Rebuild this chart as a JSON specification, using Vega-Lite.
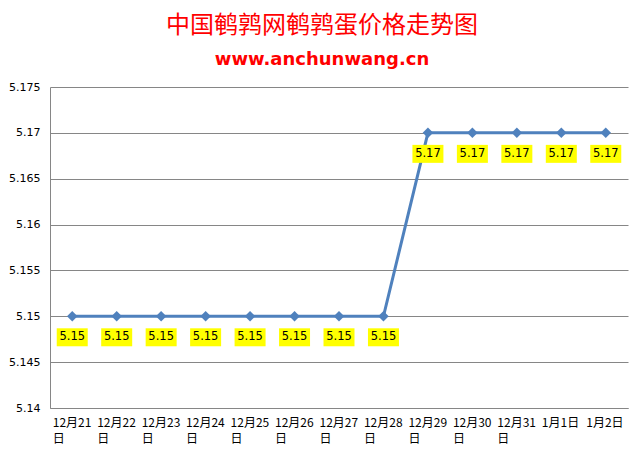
{
  "$schema": "https://vega.github.io/schema/vega-lite/v6.json",
  "width": 578,
  "height": 321,
  "autosize": {"type": "none"},
  "padding": {"left": 50, "top": 87, "right": 16, "bottom": 52},
  "background": "white",
  "title": {
    "text": "中国鹌鹑网鹌鹑蛋价格走势图",
    "subtitle": "www.anchunwang.cn",
    "anchor": "middle",
    "dx": -17,
    "offset": 12,
    "font": "Noto Sans CJK SC",
    "fontSize": 24,
    "fontWeight": "normal",
    "color": "#FF0000",
    "subtitleFont": "DejaVu Sans",
    "subtitleFontSize": 18,
    "subtitleFontWeight": "bold",
    "subtitleColor": "#FF0000",
    "subtitlePadding": 13
  },
  "data": {
    "values": [
      {"date": "12月21日", "price": 5.15},
      {"date": "12月22日", "price": 5.15},
      {"date": "12月23日", "price": 5.15},
      {"date": "12月24日", "price": 5.15},
      {"date": "12月25日", "price": 5.15},
      {"date": "12月26日", "price": 5.15},
      {"date": "12月27日", "price": 5.15},
      {"date": "12月28日", "price": 5.15},
      {"date": "12月29日", "price": 5.17},
      {"date": "12月30日", "price": 5.17},
      {"date": "12月31日", "price": 5.17},
      {"date": "1月1日", "price": 5.17},
      {"date": "1月2日", "price": 5.17}
    ]
  },
  "encoding": {
    "x": {
      "field": "date",
      "type": "ordinal",
      "sort": null,
      "title": null,
      "scale": {"type": "point", "padding": 0.5},
      "axis": {
        "labelAngle": 0,
        "labelAlign": "left",
        "labelBaseline": "top",
        "labelOffset": -20,
        "labelPadding": 9,
        "labelFont": "Noto Sans CJK SC",
        "labelFontSize": 12,
        "labelColor": "#000000",
        "labelLineHeight": 16,
        "labelExpr": "length(datum.value) > 5 ? [slice(datum.value, 0, 5), slice(datum.value, 5)] : datum.value",
        "ticks": false,
        "domainColor": "#868686",
        "grid": false
      }
    },
    "y": {
      "field": "price",
      "type": "quantitative",
      "title": null,
      "scale": {"domain": [5.14, 5.175], "nice": false, "zero": false},
      "axis": {
        "values": [5.14, 5.145, 5.15, 5.155, 5.16, 5.165, 5.17, 5.175],
        "format": ".3~f",
        "labelFont": "DejaVu Sans",
        "labelFontSize": 11,
        "labelColor": "#000000",
        "labelPadding": 10,
        "ticks": false,
        "domainColor": "#868686",
        "gridColor": "#868686",
        "gridOpacity": 1
      }
    }
  },
  "layer": [
    {
      "mark": {"type": "line", "color": "#4F81BD", "strokeWidth": 3}
    },
    {
      "mark": {"type": "point", "shape": "diamond", "filled": true, "color": "#4F81BD", "size": 110, "opacity": 1}
    },
    {
      "mark": {
        "type": "point",
        "shape": "M-1,-0.58L1,-0.58L1,0.58L-1,0.58Z",
        "size": 961,
        "filled": true,
        "color": "#FFFF00",
        "opacity": 1,
        "yOffset": 21
      }
    },
    {
      "mark": {
        "type": "text",
        "yOffset": 21,
        "baseline": "middle",
        "font": "DejaVu Sans",
        "fontSize": 11.5,
        "color": "#000000"
      },
      "encoding": {"text": {"field": "price", "type": "quantitative", "format": ".2f"}}
    }
  ],
  "config": {"view": {"stroke": null}}
}
